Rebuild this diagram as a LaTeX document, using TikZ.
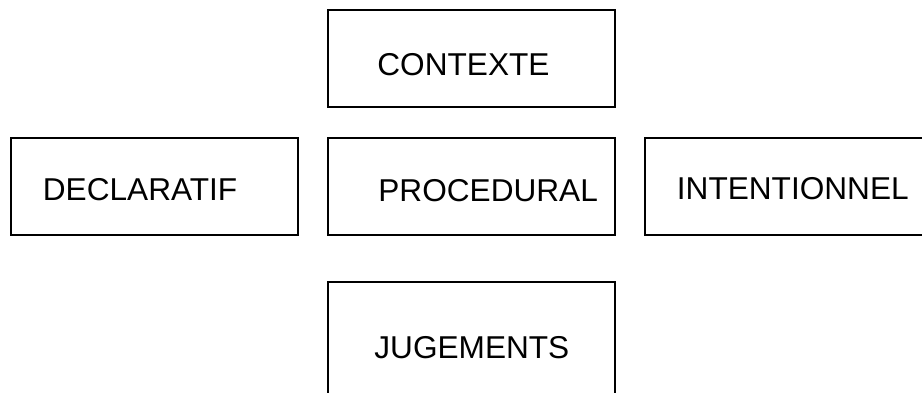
\documentclass[tikz,border=0pt]{standalone}
\usepackage{fontspec}
\setmainfont{Liberation Sans}
\usetikzlibrary{fit}
\begin{document}
\begin{tikzpicture}[x=0.5pt,y=-0.5pt,
  boxstyle/.style={draw=black, line width=1pt, rectangle, inner sep=0pt, outer sep=0pt},
  lbl/.style={anchor=base west, inner sep=0pt, font=\fontsize{15.8}{18}\selectfont}]
\useasboundingbox (0,0) rectangle (922,392);
\clip (0,0) rectangle (922,392);
\node[boxstyle, fit={(328,10) (615,107)}] (ctx) {};
\node[boxstyle, fit={(11,137.5) (298,235)}] (dec) {};
\node[boxstyle, fit={(328,137.5) (615,235)}] (pro) {};
\node[boxstyle, fit={(645,137.5) (935,235)}] (int) {};
\node[boxstyle, fit={(328,282) (615,405)}] (jug) {};
\node[lbl] (ctxt) at (377,75) {CONTEXTE};
\node[lbl] (dect) at (42.5,200) {DECLARATIF};
\node[lbl] (prot) at (378,201.5) {PROCEDURAL};
\node[lbl] (intt) at (676.5,199.3) {INTENTIONNEL};
\node[lbl] (jugt) at (374,358.3) {JUGEMENTS};
\end{tikzpicture}
\end{document}
